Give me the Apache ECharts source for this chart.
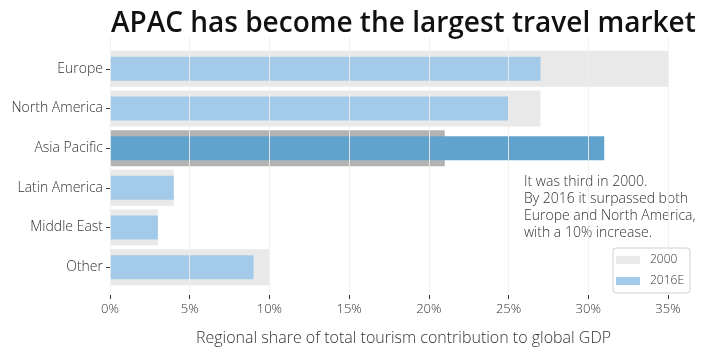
<!DOCTYPE html>
<html><head><meta charset="utf-8">
<script src="https://cdn.jsdelivr.net/npm/echarts@6/dist/echarts.min.js"></script>
<style>html,body{margin:0;padding:0;background:#fff}#c{width:720px;height:360px}</style>
</head><body><div id="c"></div>
<script>
const categories = ['Europe', 'North America', 'Asia Pacific', 'Latin America', 'Middle East', 'Other'];
const values2000 = [35, 27, 21, 4, 3, 10];
const values2016 = [27, 25, 31, 4, 3, 9];
const xTicks = [0, 5, 10, 15, 20, 25, 30, 35];
const highlightIndex = 2;

const FONT = '"Open Sans", sans-serif';
const chart = echarts.init(document.getElementById('c'), null, {renderer: 'canvas'});
const mk = (vals, hi) => vals.map((v, i) => i === highlightIndex ? {value: v, itemStyle: {color: hi}} : {value: v});
const xMin = xTicks[0], xMax = xTicks[xTicks.length - 1];

chart.setOption({
  animation: false,
  title: {
    text: 'APAC has become the largest travel market',
    left: 106, top: 5,
    textStyle: {fontFamily: FONT, fontSize: 28, fontWeight: 600, color: '#111'}
  },
  grid: [
    {left: 110, right: 52, top: 49, height: 238, containLabel: false},
    {left: 110, right: 52, top: 37, height: 255, containLabel: false}
  ],
  xAxis: [{
    type: 'value', min: xMin, max: xMax, interval: 5, gridIndex: 0,
    offset: 8, z: 3,
    axisLine: {show: false},
    axisTick: {show: true, length: 4, lineStyle: {color: '#333'}},
    axisLabel: {formatter: v => v + '%', fontFamily: FONT, fontSize: 13, color: '#333', margin: 8, fontWeight: 300},
    splitLine: {show: false}
  }, {
    type: 'value', min: xMin, max: xMax, interval: 5, gridIndex: 1, z: 3,
    axisLine: {show: false}, axisTick: {show: false}, axisLabel: {show: false},
    splitLine: {show: true, lineStyle: {color: 'rgba(238,238,238,0.85)', width: 1}}
  }],
  yAxis: [{
    type: 'category', data: categories, inverse: true, gridIndex: 0,
    axisLine: {show: false},
    axisTick: {show: true, length: 4, alignWithLabel: true, lineStyle: {color: '#333'}},
    axisLabel: {fontFamily: FONT, fontSize: 14, color: '#333', margin: 7, fontWeight: 300}
  }, {
    type: 'category', data: categories, inverse: true, show: false, gridIndex: 0
  }, {
    type: 'value', gridIndex: 1, show: false, min: 0, max: 1
  }],
  legend: {
    orient: 'vertical', left: 613, top: 248,
    itemWidth: 24, itemHeight: 8, itemGap: 9,
    padding: [6, 6, 6, 3],
    borderColor: '#d0d0d0', borderWidth: 1, borderRadius: 3,
    backgroundColor: '#fff', z: 10,
    icon: 'rect',
    textStyle: {fontFamily: FONT, fontSize: 12, color: '#333', fontWeight: 300, padding: [0, 0, 0, 5]},
    data: ['2000', '2016E']
  },
  series: [{
    name: '2000', type: 'bar', xAxisIndex: 0, yAxisIndex: 0, barWidth: 36,
    itemStyle: {color: '#e9e9e9'},
    data: mk(values2000, '#b3b3b3')
  }, {
    name: '2016E', type: 'bar', xAxisIndex: 0, yAxisIndex: 1, barWidth: 24,
    itemStyle: {color: '#a3cae8'},
    data: mk(values2016, '#62a3cd')
  }],
  graphic: [{
    type: 'text', left: 524, top: 174,
    style: {
      text: 'It was third in 2000.\nBy 2016 it surpassed both\nEurope and North America,\nwith a 10% increase.',
      font: '300 14px "Open Sans", sans-serif', fill: '#333', lineHeight: 17
    }
  }, {
    type: 'text', left: 196, top: 330,
    style: {
      text: 'Regional share of total tourism contribution to global GDP',
      font: '300 16px "Open Sans", sans-serif', fill: '#333'
    }
  }]
});
</script></body></html>
